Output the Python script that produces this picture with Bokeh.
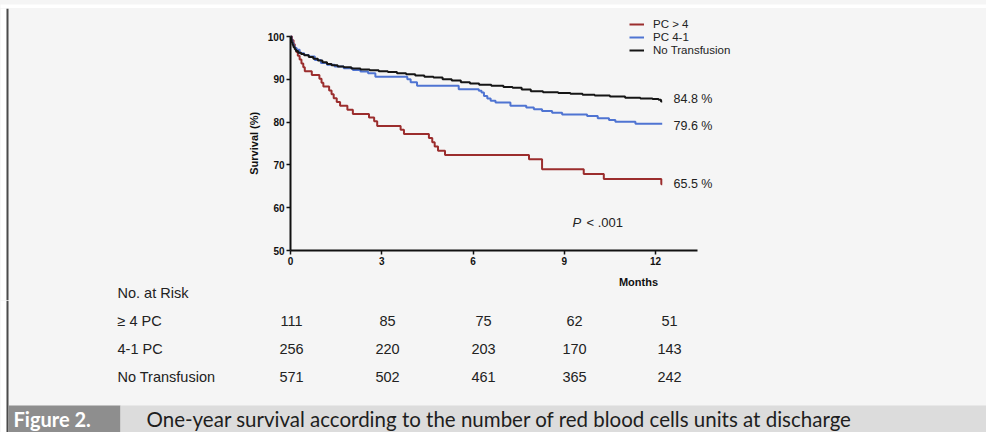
from bokeh.plotting import figure
from bokeh.layouts import column, row
from bokeh.models import Range1d, FixedTicker, Label, Legend, LegendItem
from bokeh.core.properties import value
from bokeh.embed import file_html
from bokeh.resources import INLINE

# ---- data -------------------------------------------------------------
month_ticks = [0, 3, 6, 9, 12]
survival_ticks = [50, 60, 70, 80, 90, 100]
month_axis_end = 13.38

series_names = ["PC > 4", "PC 4-1", "No Transfusion"]
series_colors = ["#9b2d2d", "#4f74d2", "#151515"]

# Kaplan-Meier steps: month of each event and survival (%) after it
pc_gt4_months = [0, 0.05, 0.10, 0.14, 0.19, 0.24, 0.30, 0.36, 0.42, 0.47,
                 0.70, 0.95, 1.02, 1.08, 1.27, 1.35, 1.42, 1.52, 1.63, 1.87,
                 2.05, 2.58, 2.75, 2.85, 3.62, 3.73, 4.55, 4.66, 4.74, 4.85,
                 5.08, 7.84, 8.27, 9.64, 10.30, 12.19, 12.22]
pc_gt4_surv = [100, 99.1, 98.2, 97.3, 96.4, 95.5, 94.6, 93.7, 92.8, 91.9,
               91.0, 90.1, 89.2, 88.3, 87.4, 86.5, 85.6, 84.7, 83.8, 82.9,
               81.9, 81.1, 80.2, 79.1, 78.2, 77.2, 76.3, 75.3, 74.3, 73.3,
               72.3, 71.3, 69.0, 67.9, 66.7, 65.5, 65.5]

pc_41_months = [0, 0.03, 0.06, 0.10, 0.14, 0.20, 0.30, 0.45, 0.60, 0.80,
                1.00, 1.20, 1.45, 1.75, 2.05, 2.30, 2.55, 2.79, 3.84, 3.95,
                4.16, 5.53, 6.19, 6.28, 6.36, 6.47, 6.58, 6.74, 7.23, 7.75,
                8.00, 8.27, 8.60, 8.93, 9.75, 10.10, 10.47, 10.68, 11.34, 12.22]
pc_41_surv = [100, 99.2, 98.4, 97.7, 97.3, 96.9, 96.1, 95.7, 95.3, 94.5,
              93.8, 93.4, 93.0, 92.6, 92.2, 91.8, 91.4, 90.6, 90.0, 89.3,
              88.5, 87.7, 87.3, 86.9, 86.1, 85.5, 85.0, 84.6, 83.8, 83.4,
              83.0, 82.6, 82.2, 81.8, 81.4, 80.9, 80.5, 80.1, 79.6, 79.6]

none_months = [0, 0.02, 0.04, 0.07, 0.10, 0.14, 0.18, 0.25, 0.35, 0.45,
               0.60, 0.75, 0.90, 1.05, 1.20, 1.35, 1.55, 1.75, 2.00, 2.30,
               2.60, 2.90, 3.20, 3.50, 3.80, 4.10, 4.40, 4.70, 5.00, 5.30,
               5.60, 5.90, 6.20, 6.60, 7.00, 7.30, 7.60, 7.90, 8.30, 8.80,
               9.20, 9.60, 10.00, 10.50, 11.00, 11.50, 11.90, 12.10, 12.18, 12.22]
none_surv = [100, 99.3, 98.6, 98.0, 97.5, 97.0, 96.6, 96.2, 95.9, 95.6,
             95.2, 94.8, 94.4, 94.0, 93.6, 93.3, 93.0, 92.8, 92.5, 92.3,
             92.1, 91.9, 91.7, 91.4, 91.2, 90.9, 90.6, 90.4, 90.0, 89.7,
             89.3, 89.0, 88.7, 88.5, 88.2, 88.0, 87.6, 87.2, 87.0, 86.8,
             86.6, 86.4, 86.2, 86.0, 85.7, 85.5, 85.4, 85.2, 84.8, 84.8]

risk_title = "No. at Risk"
risk_row_labels = ["\u2265 4 PC", "4-1 PC", "No Transfusion"]
risk_pc_gt4 = [111, 85, 75, 62, 51]
risk_pc_41 = [256, 220, 203, 170, 143]
risk_none = [571, 502, 461, 365, 242]

p_value_text = "< .001"
caption_tag = "Figure 2."
caption_text = "One-year survival according to the number of red blood cells units at discharge"

# ---- page geometry (pixels from the top-left corner of the page) -------
W, H = 986, 432
TOP_H = 8                 # white margin + dark rule along the top
MARGIN, RULE_W = 6, 2     # white margin and dark rule on the left
LEFT_W = 200              # strip left of the chart figure
SPLIT = 300               # chart band ends, table band begins
FL, FB = 290, 250         # chart frame left / bottom (axes sit here)
AX_RIGHT, AX_TOP = 697, 36  # where month_axis_end and 100 % fall
BG = "#f5f5f5"
RULE = "#4a4a4a"
INK = "#222222"
FONT = "Liberation Sans"
TABLE_SIZE = "14.5px"

px_per_month = (AX_RIGHT - FL) / month_axis_end
px_per_pct = (FB - AX_TOP) / (survival_ticks[-1] - survival_ticks[0])
x_end = (W - FL) / px_per_month
y_top = survival_ticks[0] + (FB - TOP_H) / px_per_pct
LEFT_X = MARGIN + RULE_W


def sx(X):
    # page x -> screen units from the chart frame's left edge
    return X - FL


def sy(Y):
    # page y -> screen units upward from the chart frame's bottom edge
    return FB - Y


def page_fig(width, height, y0, y1, x0=0, fill=BG):
    f = figure(width=width, height=height, x_range=Range1d(x0, x0 + width),
               y_range=Range1d(y1, y0), min_border=0, toolbar_location=None,
               output_backend="svg", x_axis_type=None, y_axis_type=None,
               background_fill_color=fill, border_fill_color=fill, outline_line_color=None,
               frame_align=False)
    f.grid.visible = False
    return f


def rect(f, X0, Y0, X1, Y1, color):
    f.quad(left=[X0], right=[X1], top=[Y0], bottom=[Y1], fill_color=color, line_color=None)


# ---- top margin and rule --------------------------------------------------
top = page_fig(W, TOP_H, 0, TOP_H, fill="white")
rect(top, MARGIN, MARGIN, W, TOP_H, RULE)

# ---- strip left of the chart ------------------------------------------------
left = page_fig(LEFT_W, SPLIT - TOP_H, TOP_H, SPLIT)
rect(left, 0, TOP_H, MARGIN, SPLIT, "white")
rect(left, MARGIN, TOP_H, LEFT_X, SPLIT, RULE)
left.text(x=[117], y=[292.5], text=[risk_title], text_font=value(FONT),
          text_font_size=value(TABLE_SIZE), text_color=INK, text_baseline="middle",
          text_align="left")

# ---- survival chart -----------------------------------------------------
p = figure(width=W - LEFT_W, height=SPLIT - TOP_H, x_range=Range1d(0, x_end),
           y_range=Range1d(50, y_top), output_backend="svg", toolbar_location=None,
           min_border_left=FL - LEFT_W, min_border_right=0,
           min_border_top=0, min_border_bottom=SPLIT - FB,
           background_fill_color=BG, border_fill_color=BG, outline_line_color=None,
           frame_align=False)
p.grid.visible = False

for ax in (p.xaxis[0], p.yaxis[0]):
    ax.axis_line_width = 2
    ax.axis_line_color = "#111111"
    ax.major_tick_line_width = 1.5
    ax.major_tick_line_color = "#111111"
    ax.major_tick_out = 4
    ax.major_tick_in = 0
    ax.minor_tick_out = 0
    ax.minor_tick_in = 0
    ax.major_label_text_font = FONT
    ax.major_label_text_font_style = "bold"
    ax.major_label_text_font_size = "10px"
    ax.major_label_text_color = "#111111"
    ax.major_label_standoff = 2
    ax.axis_label_text_font = FONT
    ax.axis_label_text_font_style = "bold"
    ax.axis_label_text_font_size = "11px"
    ax.axis_label_text_color = "#111111"

p.xaxis.ticker = FixedTicker(ticks=month_ticks)
p.xaxis.bounds = (0, month_axis_end)
p.xaxis.axis_label = "Months"
p.xaxis.axis_label_standoff = 8
p.yaxis.ticker = FixedTicker(ticks=survival_ticks)
p.yaxis.bounds = (survival_ticks[0], survival_ticks[-1])
# the frame reaches above 100 %, so trailing no-break spaces keep the
# rotated title centred on the 50-100 span of the axis line
p.yaxis.axis_label = "Survival (%)" + "\u00a0" * 9
p.yaxis.axis_label_standoff = 5

curves = [(pc_gt4_months, pc_gt4_surv), (pc_41_months, pc_41_surv), (none_months, none_surv)]
renderers = []
for (t, s), color in zip(curves, series_colors):
    renderers.append(p.step(t, s, mode="after", line_color=color, line_width=2))

legend = Legend(items=[LegendItem(label=n, renderers=[r]) for n, r in zip(series_names, renderers)],
                location=(sx(629), sy(56)), background_fill_alpha=0, border_line_color=None,
                padding=0, margin=0, spacing=1, glyph_width=15, glyph_height=12,
                label_height=12, label_standoff=9, label_text_font=FONT,
                label_text_font_size="11.5px", label_text_color=INK)
p.add_layout(legend)

# one-year survival stated beside the end of each curve
label_nudges = [0, -2, 3]
for (t, s), dy in zip(curves, label_nudges):
    p.add_layout(Label(x=sx(673), x_units="screen", y=s[-1], y_units="data", y_offset=dy,
                       text=f"{s[-1]} %", text_font=FONT, text_font_size="12.5px",
                       text_color=INK, text_baseline="middle", text_align="left"))

p.add_layout(Label(x=sx(572), y=sy(222), x_units="screen", y_units="screen", text="P",
                   text_font=FONT, text_font_style="italic", text_font_size="13px",
                   text_color=INK, text_baseline="middle"))
p.add_layout(Label(x=sx(586), y=sy(222), x_units="screen", y_units="screen", text=p_value_text,
                   text_font=FONT, text_font_size="13px", text_color=INK, text_baseline="middle"))

# ---- number-at-risk table and caption ----------------------------------
bottom = page_fig(W, H - SPLIT, SPLIT, H)
rect(bottom, 0, SPLIT, MARGIN, H, "white")
rect(bottom, MARGIN, SPLIT, LEFT_X, H, RULE)

col_x = [291, 387, 483, 574, 669]
row_y = [320, 348, 376]
tx, ty, tt, ta = [], [], [], []
for Y, name, counts in zip(row_y, risk_row_labels, [risk_pc_gt4, risk_pc_41, risk_none]):
    tx.append(117); ty.append(Y); tt.append(name); ta.append("left")
    for X, n in zip(col_x, counts):
        tx.append(X); ty.append(Y); tt.append(str(n)); ta.append("center")
bottom.text(x=tx, y=ty, text=tt, text_align=ta, text_font=value(FONT),
            text_font_size=value(TABLE_SIZE), text_color=INK, text_baseline="middle")

rect(bottom, LEFT_X, 405, 120, H, "#8e8e8e")
rect(bottom, 120, 405, W, H, "#dcdcdc")
bottom.text(x=[13], y=[418], text=[caption_tag], text_font=value("Lato"),
            text_font_style="bold", text_font_size=value("20px"), text_color="white",
            text_baseline="middle", text_align="left")
bottom.text(x=[146], y=[418], text=[caption_text], text_font=value("Lato"),
            text_font_size=value("20.5px"), text_color="#1e1e1e",
            text_baseline="middle", text_align="left")

band = row(left, p, styles={"background-color": BG})
page = column(top, band, bottom, styles={"background-color": BG})
open("out.html", "w").write(file_html(page, INLINE))
